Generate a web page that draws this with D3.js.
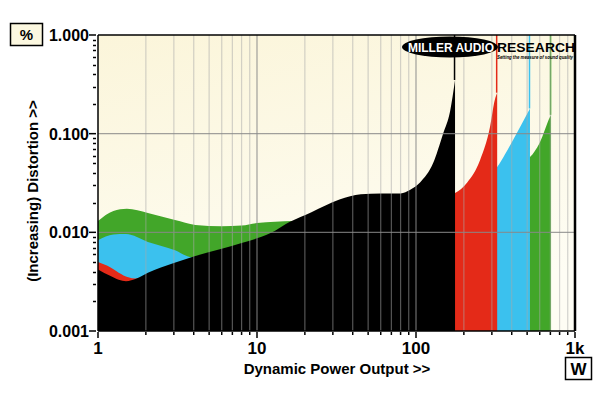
<!DOCTYPE html>
<html>
<head>
<meta charset="utf-8">
<script src="https://d3js.org/d3.v7.min.js"></script>
<style>
  body { margin: 0; background: #fff; }
  text { font-family: "Liberation Sans", Arial, sans-serif; font-weight: bold; }
</style>
</head>
<body>
<svg id="chart"></svg>
<script>
// distortion vs power, one series per trace [watts, percent]
var blackData = [[1,0.0042],[1.2,0.0036],[1.35,0.0033],[1.5,0.0032],[1.75,0.0034],[2.06,0.0039],[3,0.0049],[4,0.0057],[6,0.0068],[8,0.0078],[10,0.0087],[13,0.0104],[16,0.0127],[22,0.016],[33,0.0215],[45,0.0243],[60,0.0247],[80,0.0248],[92,0.027],[106,0.032],[128,0.05],[148,0.10],[164,0.17],[176,0.35]];
var redData = [[1,0.005],[1.2,0.0044],[1.35,0.0039],[1.55,0.0035],[1.72,0.0034],[2.1,0.0037],[3,0.0047],[5,0.006],[10,0.008],[20,0.014],[40,0.021],[80,0.023],[150,0.023],[176,0.025],[210,0.032],[253,0.054],[292,0.117],[313,0.22],[324,0.26]];
var cyanData = [[1,0.0083],[1.25,0.0095],[1.5,0.0096],[2.06,0.0080],[3.05,0.0066],[3.9,0.0056],[6,0.0065],[10,0.008],[20,0.014],[40,0.021],[100,0.023],[176,0.024],[250,0.035],[324,0.046],[363,0.062],[407,0.086],[521,0.18]];
var greenData = [[1,0.013],[1.25,0.0165],[1.52,0.0173],[2.06,0.0157],[3.05,0.0133],[4.1,0.0119],[6,0.0115],[8,0.0117],[10,0.0124],[13,0.0128],[17,0.013],[22,0.014],[33,0.019],[60,0.022],[176,0.023],[324,0.04],[521,0.058],[600,0.081],[697,0.148],[707,0.155]];

var yTicks = [1, 0.1, 0.01, 0.001];
var yTickLabels = ["1.000", "0.100", "0.010", "0.001"];
var xTicks = [1, 10, 100, 1000];
var xTickLabels = ["1", "10", "100", "1k"];

var width = 600, height = 398;
var pLeft = 98, pRight = 575, pTop = 35, pBottom = 331;

var svg = d3.select("#chart").attr("width", width).attr("height", height);

var x = d3.scaleLog().domain([1, 1000]).range([pLeft, pRight]);
var y = d3.scaleLog().domain([0.001, 1]).range([pBottom, pTop]);

// background gradient
var grad = svg.append("defs").append("linearGradient")
    .attr("id", "bg").attr("x1", 0).attr("y1", 0).attr("x2", 0.3).attr("y2", 1);
grad.append("stop").attr("offset", "0%").attr("stop-color", "#fbf5da");
grad.append("stop").attr("offset", "100%").attr("stop-color", "#fefdf4");

svg.append("rect")
    .attr("x", pLeft).attr("y", pTop)
    .attr("width", pRight - pLeft).attr("height", pBottom - pTop)
    .attr("fill", "url(#bg)");

var area = d3.area()
    .x(d => x(d[0]))
    .y0(pBottom)
    .y1(d => y(d[1]))
    .curve(d3.curveMonotoneX);

var series = [
    { data: greenData, color: "#42a629" },
    { data: cyanData, color: "#3bc1ee" },
    { data: redData, color: "#e42a18" },
    { data: blackData, color: "#000000" }
];

series.forEach(function (s) {
    svg.append("path")
        .datum(s.data)
        .attr("d", area)
        .attr("fill", s.color);
    // clipping spike up to the top
    var last = s.data[s.data.length - 1];
    svg.append("line")
        .attr("x1", x(last[0]) - 0.5).attr("x2", x(last[0]) - 0.5)
        .attr("y1", y(last[1])).attr("y2", pTop)
        .attr("stroke", s.color)
        .attr("stroke-width", 1.5);
});

// grid
var minor = [];
[1, 10, 100].forEach(function (d) {
    for (var k = 2; k <= 10; k++) minor.push(k * d);
});
minor = minor.filter(v => v < 1000);

svg.append("g")
    .selectAll("line")
    .data(minor)
    .join("line")
    .attr("x1", d => x(d)).attr("x2", d => x(d))
    .attr("y1", pTop).attr("y2", pBottom)
    .attr("stroke", d => (d === 10 || d === 100) ? "#888" : "#aaa")
    .attr("stroke-opacity", d => (d === 10 || d === 100) ? 0.8 : 0.5)
    .attr("stroke-width", 1.2);

svg.append("g")
    .selectAll("line")
    .data([0.1, 0.01])
    .join("line")
    .attr("x1", pLeft).attr("x2", pRight)
    .attr("y1", d => y(d)).attr("y2", d => y(d))
    .attr("stroke", "#888")
    .attr("stroke-opacity", 0.8)
    .attr("stroke-width", 1.2);

// frame
svg.append("line").attr("x1", pLeft).attr("x2", pRight).attr("y1", pTop).attr("y2", pTop)
    .attr("stroke", "#000").attr("stroke-width", 1.5);
svg.append("line").attr("x1", pLeft).attr("x2", pLeft).attr("y1", pTop).attr("y2", pBottom)
    .attr("stroke", "#000").attr("stroke-width", 1.5);
svg.append("line").attr("x1", pRight).attr("x2", pRight).attr("y1", pTop).attr("y2", pBottom)
    .attr("stroke", "#000").attr("stroke-width", 2.5);
svg.append("line").attr("x1", pLeft).attr("x2", pRight).attr("y1", pBottom).attr("y2", pBottom)
    .attr("stroke", "#000").attr("stroke-width", 1.5);

// y ticks
var yMinor = [];
[0.001, 0.01, 0.1].forEach(function (d) {
    for (var k = 2; k <= 9; k++) yMinor.push(k * d);
});
svg.append("g")
    .selectAll("line")
    .data(yMinor)
    .join("line")
    .attr("x1", pLeft - 5).attr("x2", pLeft - 2)
    .attr("y1", d => Math.round(y(d)) + 0.5).attr("y2", d => Math.round(y(d)) + 0.5)
    .attr("stroke", "#000").attr("stroke-width", 1.5);

svg.append("g")
    .selectAll("line")
    .data(yTicks)
    .join("line")
    .attr("x1", pLeft - 9).attr("x2", pLeft - 2)
    .attr("y1", d => y(d)).attr("y2", d => y(d))
    .attr("stroke", "#000").attr("stroke-width", 1.5);

svg.append("g")
    .selectAll("text")
    .data(yTicks)
    .join("text")
    .attr("x", pLeft - 9)
    .attr("y", d => y(d) + 6)
    .attr("text-anchor", "end")
    .style("font-size", "16px")
    .text((d, i) => yTickLabels[i]);

// x ticks
svg.append("g")
    .selectAll("line")
    .data([1].concat(minor).concat([1000]))
    .join("line")
    .attr("x1", d => x(d)).attr("x2", d => x(d))
    .attr("y1", pBottom + 1).attr("y2", d => xTicks.indexOf(d) >= 0 ? pBottom + 7 : pBottom + 4)
    .attr("stroke", "#000").attr("stroke-width", 1.5);

svg.append("g")
    .selectAll("text")
    .data(xTicks)
    .join("text")
    .attr("x", d => x(d))
    .attr("y", pBottom + 23)
    .attr("text-anchor", "middle")
    .style("font-size", "17px")
    .text((d, i) => xTickLabels[i]);

// axis titles
svg.append("text")
    .attr("x", 337).attr("y", 374)
    .attr("text-anchor", "middle")
    .style("font-size", "15px")
    .text("Dynamic Power Output >>");

svg.append("text")
    .attr("transform", "translate(38,191) rotate(-90)")
    .attr("text-anchor", "middle")
    .style("font-size", "15px")
    .text("(Increasing) Distortion >>");

// unit boxes
svg.append("rect").attr("x", 10.5).attr("y", 23.5).attr("width", 32).attr("height", 22)
    .attr("fill", "#fcf8e0").attr("stroke", "#000").attr("stroke-width", 1.5);
svg.append("text").attr("x", 26.5).attr("y", 40).attr("text-anchor", "middle")
    .style("font-size", "15px").text("%");

svg.append("rect").attr("x", 565.5).attr("y", 357.5).attr("width", 26).attr("height", 22)
    .attr("fill", "#fff").attr("stroke", "#000").attr("stroke-width", 1.5);
svg.append("text").attr("x", 578.5).attr("y", 375).attr("text-anchor", "middle")
    .style("font-size", "17px").text("W");

// logo
svg.append("ellipse").attr("cx", 450).attr("cy", 47).attr("rx", 48).attr("ry", 10.5)
    .attr("fill", "#000");
svg.append("text").attr("x", 451).attr("y", 52).attr("text-anchor", "middle")
    .attr("fill", "#fff")
    .attr("textLength", 86).attr("lengthAdjust", "spacingAndGlyphs")
    .style("font-size", "13px")
    .text("MILLER AUDIO");
svg.append("text").attr("x", 497).attr("y", 52)
    .attr("fill", "#000")
    .attr("textLength", 78).attr("lengthAdjust", "spacingAndGlyphs")
    .style("font-size", "13px")
    .text("RESEARCH");
svg.append("text").attr("x", 497).attr("y", 59)
    .attr("fill", "#000")
    .attr("textLength", 76).attr("lengthAdjust", "spacingAndGlyphs")
    .style("font-size", "5.5px").style("font-style", "italic")
    .text("Setting the measure of sound quality");
</script>
</body>
</html>
